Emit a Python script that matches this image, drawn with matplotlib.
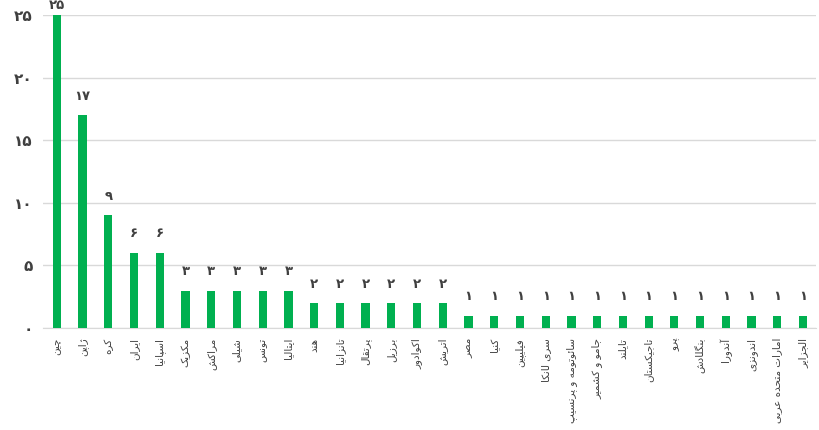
import matplotlib
matplotlib.use("Agg")
import matplotlib.pyplot as plt
import numpy as np

countries = ["چین", "ژاپن", "کره", "ایران", "اسپانیا", "مکزیک", "مراکش", "شیلی",
             "تونس", "ایتالیا", "هند", "تانزانیا", "پرتقال", "برزیل", "اکوادور",
             "اتریش", "مصر", "کنیا", "فیلیپین", "سری\u200cلانکا", "سائوتومه و پرنسیپ",
             "جامو و کشمیر", "تایلند", "تاجیکستان", "پرو", "بنگلادش", "آندورا",
             "اندونزی", "امارات متحده عربی", "الجزایر"]
counts = [25, 17, 9, 6, 6, 3, 3, 3, 3, 3, 2, 2, 2, 2, 2, 2,
          1, 1, 1, 1, 1, 1, 1, 1, 1, 1, 1, 1, 1, 1]
yticks = [0, 5, 10, 15, 20, 25]

# minimal Persian shaping (matplotlib has no complex text layout)
FORMS = {  # isolated, final, initial, medial
    "ا": (0xFE8D, 0xFE8E, None, None), "آ": (0xFE81, 0xFE82, None, None),
    "ب": (0xFE8F, 0xFE90, 0xFE91, 0xFE92), "پ": (0xFB56, 0xFB57, 0xFB58, 0xFB59),
    "ت": (0xFE95, 0xFE96, 0xFE97, 0xFE98), "ج": (0xFE9D, 0xFE9E, 0xFE9F, 0xFEA0),
    "چ": (0xFB7A, 0xFB7B, 0xFB7C, 0xFB7D), "ح": (0xFEA1, 0xFEA2, 0xFEA3, 0xFEA4),
    "د": (0xFEA9, 0xFEAA, None, None), "ر": (0xFEAD, 0xFEAE, None, None),
    "ز": (0xFEAF, 0xFEB0, None, None), "ژ": (0xFB8A, 0xFB8B, None, None),
    "س": (0xFEB1, 0xFEB2, 0xFEB3, 0xFEB4), "ش": (0xFEB5, 0xFEB6, 0xFEB7, 0xFEB8),
    "ص": (0xFEB9, 0xFEBA, 0xFEBB, 0xFEBC), "ع": (0xFEC9, 0xFECA, 0xFECB, 0xFECC),
    "ف": (0xFED1, 0xFED2, 0xFED3, 0xFED4), "ق": (0xFED5, 0xFED6, 0xFED7, 0xFED8),
    "ک": (0xFB8E, 0xFB8F, 0xFB90, 0xFB91), "گ": (0xFB92, 0xFB93, 0xFB94, 0xFB95),
    "ل": (0xFEDD, 0xFEDE, 0xFEDF, 0xFEE0), "م": (0xFEE1, 0xFEE2, 0xFEE3, 0xFEE4),
    "ن": (0xFEE5, 0xFEE6, 0xFEE7, 0xFEE8), "ه": (0xFEE9, 0xFEEA, 0xFEEB, 0xFEEC),
    "و": (0xFEED, 0xFEEE, None, None), "ی": (0xFBFC, 0xFBFD, 0xFBFE, 0xFBFF),
    "ئ": (0xFE89, 0xFE8A, 0xFE8B, 0xFE8C),
}


def shape(word):
    out = []
    chars = list(word)
    for i, ch in enumerate(chars):
        if ch not in FORMS:
            out.append(" " if ch == "\u200c" else ch)
            continue
        prev = chars[i - 1] if i > 0 else None
        nxt = chars[i + 1] if i + 1 < len(chars) else None
        join_prev = prev in FORMS and FORMS[prev][2] is not None
        join_next = nxt in FORMS and FORMS[ch][2] is not None
        f = FORMS[ch]
        if join_prev and join_next:
            code = f[3]
        elif join_prev:
            code = f[1]
        elif join_next:
            code = f[2]
        else:
            code = f[0]
        out.append(chr(code))
    return "".join(out)[::-1]


def fa_num(n):
    return "".join(chr(0x06F0 + int(d)) for d in str(n))


plt.rcParams["font.family"] = ["DejaVu Sans"]
fig, ax = plt.subplots(figsize=(8.2, 4.3), dpi=100)
fig.subplots_adjust(left=0.052, right=0.995, top=0.965, bottom=0.237)

x = np.arange(len(countries))
bars = ax.bar(x, counts, width=0.32, color="#00B050", zorder=3)
for xi, v in zip(x, counts):
    # the top label is squeezed against the figure edge, like in Excel
    off = 2.5 if v == max(counts) else 9
    ax.annotate(fa_num(v), (xi, v), xytext=(0, off), textcoords="offset points",
                ha="center", va="bottom", fontsize=9.5, color="#404040",
                fontweight="bold", annotation_clip=False)

ax.set_xlim(-0.55, len(countries) - 0.5)
ax.set_ylim(0, 25)
ax.set_yticks(yticks)
ax.set_yticklabels([fa_num(t) for t in yticks], fontsize=11, color="#404040",
                   fontweight="bold")
ax.set_xticks(x)
ax.set_xticklabels([shape(c) for c in countries], rotation=90, fontsize=7.5,
                   color="#404040")
ax.tick_params(axis="both", length=0, pad=7)
ax.grid(True, axis="y", color="#d9d9d9", linewidth=1, zorder=0)
for s in ["top", "right", "left"]:
    ax.spines[s].set_visible(False)
ax.spines["bottom"].set_color("#d9d9d9")

plt.savefig("out.png", dpi=100)
